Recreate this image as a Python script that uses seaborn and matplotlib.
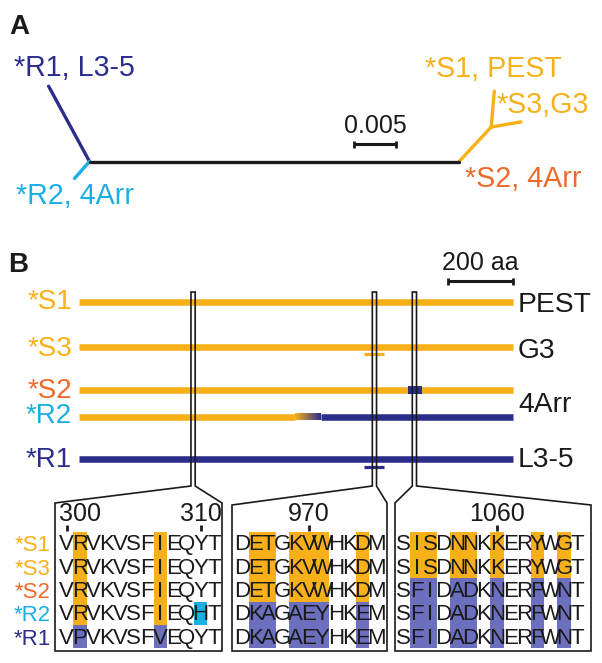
import numpy as np
import pandas as pd
import matplotlib
matplotlib.use("Agg")
import matplotlib.pyplot as plt
from matplotlib.patches import Rectangle, Polygon
from matplotlib.colors import to_rgb
import seaborn as sns

# ---------------- data ----------------
taxa = ["*S1", "*S3", "*S2", "*R2", "*R1"]
taxon_colors = ["#F8B01A", "#F8B01A", "#EE6A2A", "#1AAEE6", "#2B2D8A"]

# panel A: unrooted tree (branch lengths in substitutions/site, drawing angle in degrees)
branch_parent = ["root", "root", "root", "Snode", "Sfork", "Sfork"]
branch_child = ["Snode", "R1", "R2", "Sfork", "S1", "S3"]
branch_length = [0.0440, 0.0102, 0.0027, 0.0056, 0.0043, 0.0036]
branch_angle = [0, 118.5, 228.5, 47, 85, 10]
branch_group = ["internal", "R1", "R2", "S", "S", "S"]
tree_tip_labels = ["*R1, L3-5", "*R2, 4Arr", "*S1, PEST", "*S3,G3", "*S2, 4Arr"]
tree_tip_colors = ["#2B2D8A", "#1AAEE6", "#F8B01A", "#F8B01A", "#EE6A2A"]
tree_scale_value = 0.005

# panel B: protein schematic (aa)
protein_length = 1334
scale_aa = 200
domain_names = ["PEST", "G3", "4Arr", "L3-5"]
r2_switch = (665, 745)          # S-type -> R-type transition in *R2
s2_patch = (1012, 1055)         # R-type patch in *S2
indel_mark = (877, 938)         # short marks under *S3 and *R1
window_aa = [351, 909, 1032]    # schematic positions of the three windows

# alignment blocks
block_start = [300, 965, 1053]
block_ticks = [[300, 310], [970], [1060]]
block_seqs = [
    ["VRVKVSFIEQYT", "VRVKVSFIEQYT", "VRVKVSFIEQYT", "VRVKVSFIEQHT", "VPVKVSFVEQYT"],
    ["DETGKVWHKDM", "DETGKVWHKDM", "DETGKVWHKDM", "DKAGAEYHKEM", "DKAGAEYHKEM"],
    ["SISDNNKKERYWGT", "SISDNNKKERYWGT", "SFIDADKNERFWNT", "SFIDADKNERFWNT", "SFIDADKNERFWNT"],
]

# ---------------- style ----------------
sns.set_theme(style="white")
plt.rcParams["font.family"] = ["Liberation Sans", "DejaVu Sans"]

YEL = "#F8B01A"
NAVY = "#2B2D8A"
PURP = "#6C6FBE"
CYAN = "#1AAEE6"
BLK = "#1A1A1A"

fig = plt.figure(figsize=(6.02, 6.63), dpi=100)
ax = fig.add_axes([0, 0, 1, 1])
ax.set_axis_off()

def txt(x, y, s, size, color=BLK, ha="left", weight="normal"):
    ax.text(x, y, s, fontsize=size, color=color, ha=ha, va="baseline",
            fontweight=weight)

# ---------------- panel A ----------------
txt(9, 33.5, "A", 20, weight="bold")
root = np.array([89.5, 161.5])
px_per_unit = 42 / tree_scale_value
pos = {"root": root}
rows = []
for p, c, L, a, g in zip(branch_parent, branch_child, branch_length, branch_angle, branch_group):
    start = pos[p]
    end = start + L * px_per_unit * np.array([np.cos(np.radians(a)), -np.sin(np.radians(a))])
    pos[c] = end
    rows.append({"x": start[0], "y": start[1], "branch": c, "group": g})
    rows.append({"x": end[0], "y": end[1], "branch": c, "group": g})
tree_df = pd.DataFrame(rows)
pal = {"internal": BLK, "R1": NAVY, "R2": CYAN, "S": YEL}
for g, sub in tree_df.groupby("group"):
    sns.lineplot(data=sub, x="x", y="y", units="branch", estimator=None, sort=False,
                 color=pal[g], lw=2.4, ax=ax, legend=False,
                 solid_capstyle="round")

label_xy = [(14, 76.5), (16, 204), (425, 77), (497, 113), (465, 187)]
for (x, y), s, c in zip(label_xy, tree_tip_labels, tree_tip_colors):
    txt(x, y, s, 20.6, color=c)

# tree scale bar
sb_x0 = 354
sb_x1 = sb_x0 + tree_scale_value * px_per_unit
ax.plot([sb_x0, sb_x1], [144, 144], color=BLK, lw=2.2, solid_capstyle="butt")
for xx in (sb_x0, sb_x1):
    ax.plot([xx, xx], [140.5, 147.5], color=BLK, lw=2.0, solid_capstyle="butt")
txt((sb_x0 + sb_x1) / 2, 133, "0.005", 18, ha="center")

# ---------------- panel B ----------------
txt(8, 272, "B", 20, weight="bold")
BAR_X0 = 79
PX_PER_AA = 65 / scale_aa
def xa(aa):
    return BAR_X0 + aa * PX_PER_AA

row_y = [301.7, 347, 390, 416.7, 459]
row_col = [YEL, YEL, YEL, YEL, NAVY]
BAR_LW = 4.7
for i, (t, y) in enumerate(zip(taxa, row_y)):
    if t == "*R2":
        ax.plot([xa(0), xa(r2_switch[0])], [y, y], color=YEL, lw=BAR_LW, solid_capstyle="butt")
        ax.plot([xa(r2_switch[1]), xa(protein_length)], [y, y], color=NAVY, lw=BAR_LW, solid_capstyle="butt")
        n = 60
        c0, c1 = np.array(to_rgb(YEL)), np.array(to_rgb(NAVY))
        grad = np.array([c0 + (c1 - c0) * f for f in np.linspace(0, 1, n)])[None, :, :]
        ax.imshow(grad, extent=(xa(r2_switch[0]), xa(r2_switch[1]), y + 3.25, y - 3.25),
                  aspect="auto", interpolation="bilinear", zorder=2)
    else:
        ax.plot([xa(0), xa(protein_length)], [y, y], color=row_col[i], lw=BAR_LW, solid_capstyle="butt")

# navy patch in *S2
ax.add_patch(Rectangle((xa(s2_patch[0]), row_y[2] - 3.7), xa(s2_patch[1]) - xa(s2_patch[0]), 7.4,
                       facecolor=NAVY, edgecolor="none", zorder=3))
# indel marks
ax.plot([xa(indel_mark[0]), xa(indel_mark[1])], [354.3, 354.3], color=YEL, lw=2.3, solid_capstyle="butt")
ax.plot([xa(indel_mark[0]), xa(indel_mark[1])], [466.7, 466.7], color=NAVY, lw=2.3, solid_capstyle="butt")

# left labels
lab_base = [309, 356, 398, 423, 467]
for t, c, b in zip(taxa, taxon_colors, lab_base):
    txt(72, b, t, 20, color=c, ha="right")
# right labels
for s, b in zip(domain_names, [311.7, 357.5, 411.7, 466.7]):
    txt(518, b, s, 20.3)

# 200 aa scale bar
s0, s1 = xa(protein_length) - scale_aa * PX_PER_AA, xa(protein_length)
ax.plot([s0, s1], [281, 281], color=BLK, lw=2.2, solid_capstyle="butt")
for xx in (s0, s1):
    ax.plot([xx, xx], [277.5, 284.5], color=BLK, lw=2.0, solid_capstyle="butt")
txt((s0 + s1) / 2, 270, "200 aa", 18, ha="center")

# windows + expanded boxes
WIN_TOP, WIN_BOT, BOX_BOT = 292, 486, 651
box_lr = [(55, 222), (232, 387), (395, 591)]
box_top = [(503, 503), (505, 503), (503, 505)]
for w, (bl, br), (tl, tr) in zip(window_aa, box_lr, box_top):
    wc = xa(w)
    wl, wr = wc - 2.1, wc + 2.1
    poly = [(wl, WIN_TOP), (wl, WIN_BOT), (bl, tl), (bl, BOX_BOT), (br, BOX_BOT),
            (br, tr), (wr, WIN_BOT), (wr, WIN_TOP)]
    ax.add_patch(Polygon(poly, closed=True, fill=False, edgecolor=BLK, lw=1.2, zorder=5,
                         joinstyle="miter"))

# alignment
col0 = [66.5, 242, 403.3]
STEP = 13.4
ROW_TOP = 531.7
ROW_H = 23.3
for b, seqs in enumerate(block_seqs):
    ncol = len(seqs[0])
    ref_s, ref_r = seqs[0], seqs[-1]
    for j in range(ncol):
        colres = [s[j] for s in seqs]
        if len(set(colres)) == 1:
            continue
        for i, r in enumerate(colres):
            if ref_s[j] != ref_r[j]:
                fc = YEL if r == ref_s[j] else (PURP if r == ref_r[j] else CYAN)
            else:
                fc = None if r == ref_s[j] else CYAN
            if fc is None:
                continue
            ax.add_patch(Rectangle((col0[b] + j * STEP - STEP / 2, ROW_TOP + i * ROW_H),
                                   STEP, ROW_H, facecolor=fc, edgecolor="none", zorder=1))
    for i, s in enumerate(seqs):
        yb = ROW_TOP + (i + 0.5) * ROW_H + 7
        for j, ch in enumerate(s):
            ax.text(col0[b] + j * STEP, yb, ch, fontsize=16, color=BLK, ha="center",
                    va="baseline", zorder=4)
    for tk in block_ticks[b]:
        tx = col0[b] + (tk - block_start[b]) * STEP
        ax.plot([tx, tx], [525, 531], color=BLK, lw=2.0, solid_capstyle="butt")
        lx = tx + 14 if (b == 0 and tk == block_start[0]) else tx
        txt(lx, 521, str(tk), 18, ha="center")

for i, (t, c) in enumerate(zip(taxa, taxon_colors)):
    txt(51, ROW_TOP + (i + 0.5) * ROW_H + 8, t, 16, color=c, ha="right")

ax.set_xlim(0, 602)
ax.set_ylim(663, 0)
fig.savefig("out.png", dpi=100)
